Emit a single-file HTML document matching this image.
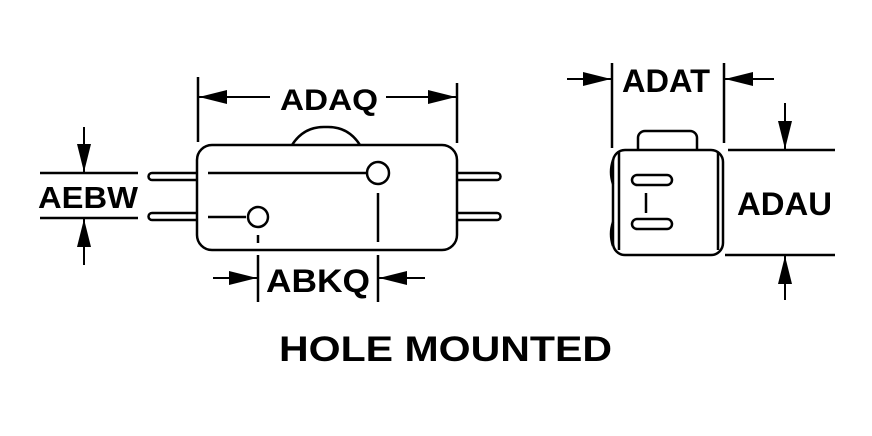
<!DOCTYPE html>
<html><head><style>html,body{margin:0;padding:0;background:#fff}svg{display:block}</style></head>
<body>
<svg width="872" height="436" viewBox="0 0 872 436" xmlns="http://www.w3.org/2000/svg">
<defs>
<marker id="a" viewBox="0 0 28 14" refX="28" refY="7" markerWidth="28" markerHeight="14" markerUnits="userSpaceOnUse" orient="auto-start-reverse"><path d="M0,0 L28,7 L0,14z" fill="#000"/></marker>
</defs>
<g fill="none" stroke="#000" stroke-width="2.5">
<rect x="197" y="145" width="260" height="105" rx="15"/>
<path d="M292,145 Q304,126 326,127 Q348,126 360,145"/>
<path d="M197,173 H152 a3.5,3.5 0 0 0 0,7 H197"/>
<path d="M197,213 H152 a3.5,3.5 0 0 0 0,7 H197"/>
<path d="M457,173 H497 a3.5,3.5 0 0 1 0,7 H457"/>
<path d="M457,213 H497 a3.5,3.5 0 0 1 0,7 H457"/>
<line x1="208" y1="173" x2="366" y2="173"/>
<circle cx="378" cy="173" r="11"/>
<line x1="208" y1="217" x2="246" y2="217"/>
<circle cx="258" cy="217" r="10"/>
<line x1="378" y1="193" x2="378" y2="242"/>
<line x1="258" y1="235" x2="258" y2="243"/>
<line x1="198" y1="77" x2="198" y2="142"/>
<line x1="457" y1="83" x2="457" y2="143"/>
<line x1="270" y1="97" x2="199" y2="97" marker-end="url(#a)" stroke-width="2"/>
<line x1="386" y1="97" x2="456" y2="97" marker-end="url(#a)" stroke-width="2"/>
<line x1="258" y1="255" x2="258" y2="302"/>
<line x1="378" y1="255" x2="378" y2="302"/>
<line x1="213" y1="278" x2="257" y2="278" marker-end="url(#a)" stroke-width="2"/>
<line x1="425" y1="278" x2="379" y2="278" marker-end="url(#a)" stroke-width="2"/>
<line x1="40" y1="173" x2="138" y2="173"/>
<line x1="40" y1="218" x2="138" y2="218"/>
<line x1="84" y1="127" x2="84" y2="172" marker-end="url(#a)" stroke-width="2"/>
<line x1="84" y1="265" x2="84" y2="219" marker-end="url(#a)" stroke-width="2"/>
<path d="M638,150 V138 a7,7 0 0 1 7,-7 H690 a7,7 0 0 1 7,7 V150"/>
<rect x="613" y="150" width="110" height="105" rx="12"/>
<path d="M619,152 V250"/>
<path d="M718,152 V250"/>
<path d="M613,160 q-4,12 0,24 M613,222 q-4,12 0,24"/>
<rect x="632" y="175" width="40" height="10" rx="5"/>
<rect x="632" y="219" width="40" height="10" rx="5"/>
<line x1="646" y1="193" x2="646" y2="213"/>
<line x1="612" y1="63" x2="612" y2="148"/>
<line x1="724" y1="63" x2="724" y2="143"/>
<line x1="567" y1="79" x2="611" y2="79" marker-end="url(#a)" stroke-width="2"/>
<line x1="774" y1="79" x2="725" y2="79" marker-end="url(#a)" stroke-width="2"/>
<line x1="728" y1="150" x2="835" y2="150"/>
<line x1="725" y1="255" x2="835" y2="255"/>
<line x1="785" y1="103" x2="785" y2="149" marker-end="url(#a)" stroke-width="2"/>
<line x1="785" y1="300" x2="785" y2="256" marker-end="url(#a)" stroke-width="2"/>
</g>
<g font-family="Liberation Sans, sans-serif" font-weight="bold" fill="#000">
<text x="280" y="110" font-size="30" textLength="98" lengthAdjust="spacingAndGlyphs">ADAQ</text>
<text x="266" y="292" font-size="32" textLength="104" lengthAdjust="spacingAndGlyphs">ABKQ</text>
<text x="38" y="208" font-size="31" textLength="100" lengthAdjust="spacingAndGlyphs">AEBW</text>
<text x="622" y="92" font-size="32" textLength="88" lengthAdjust="spacingAndGlyphs">ADAT</text>
<text x="737" y="215" font-size="32" textLength="95" lengthAdjust="spacingAndGlyphs">ADAU</text>
<text x="279" y="361" font-size="35" textLength="333" lengthAdjust="spacingAndGlyphs">HOLE MOUNTED</text>
</g>
</svg>
</body></html>
